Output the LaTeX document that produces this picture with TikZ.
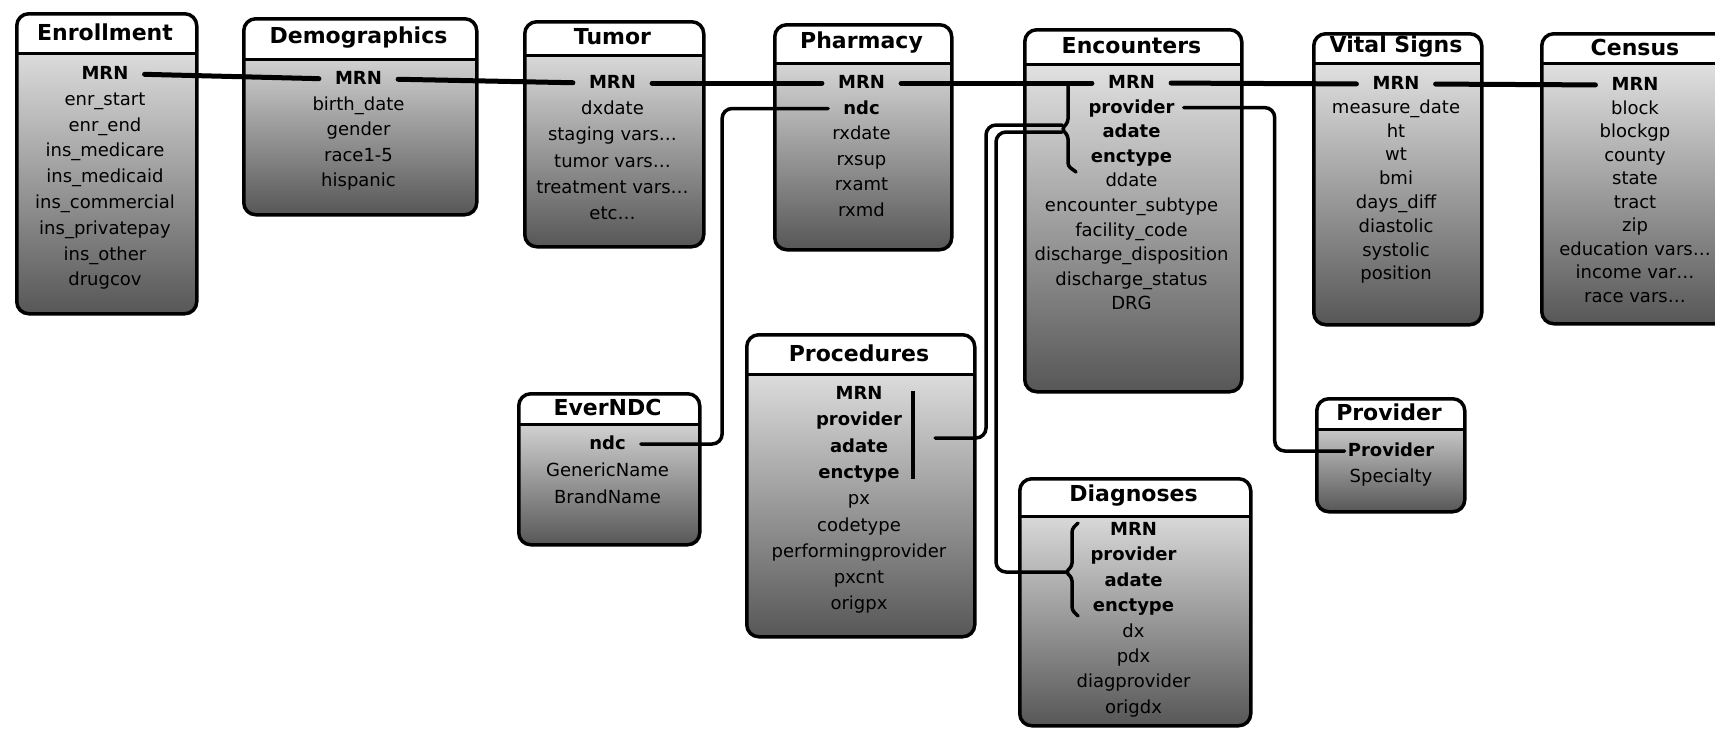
\documentclass[tikz,border=0pt]{standalone}
\usepackage{fontspec}
\setmainfont{DejaVu Sans}
\tikzset{
  dbtable/.style={draw, line width=3.5pt, rounded corners=12pt, inner sep=0pt,
    anchor=north west, top color=black!6, bottom color=black!66,
    path picture={
      \fill[white, sharp corners] (path picture bounding box.north west)
        rectangle ([yshift=-#1]path picture bounding box.north east);
      \draw[line width=3pt, sharp corners] ([yshift=-#1]path picture bounding box.north west)
        -- ([yshift=-#1]path picture bounding box.north east);
    }},
  tbltitle/.style={font=\bfseries\fontsize{22}{26}\selectfont, inner sep=0pt},
  tblfield/.style={font=\fontsize{18}{20}\selectfont, inner xsep=3pt, inner ysep=1pt,
    text height=14pt, text depth=3pt},
  mrnlink/.style={line width=5pt, line cap=round, shorten <=13pt, shorten >=13pt},
  link/.style={line width=3.5pt, line cap=round, rounded corners=10pt},
}
\begin{document}
\begin{tikzpicture}[x=1pt, y=-1pt]
	\useasboundingbox (0,0) rectangle (1715,728);
	\clip (0,0) rectangle (1715,728);
	% Draw the tables
	\node[dbtable=40pt, minimum width=180pt, minimum height=300pt] (enr) at (15,12) {};
	\node[dbtable=41pt, minimum width=233pt, minimum height=196pt] (dem) at (242,17) {};
	\node[dbtable=34pt, minimum width=179pt, minimum height=225pt] (tum) at (523,20) {};
	\node[dbtable=39pt, minimum width=177pt, minimum height=225pt] (pha) at (773,23) {};
	\node[dbtable=35pt, minimum width=217pt, minimum height=362pt] (enc) at (1023,28) {};
	\node[dbtable=30pt, minimum width=168pt, minimum height=291pt] (vit) at (1312,32) {};
	\node[dbtable=30pt, minimum width=190pt, minimum height=290pt] (cen) at (1540,32) {};
	\node[dbtable=31pt, minimum width=181pt, minimum height=151pt] (evn) at (517,392) {};
	\node[dbtable=40pt, minimum width=228pt, minimum height=302pt] (prc) at (745,333) {};
	\node[dbtable=38pt, minimum width=231pt, minimum height=247pt] (dia) at (1018,477) {};
	\node[dbtable=31pt, minimum width=148pt, minimum height=113pt] (prv) at (1315,397) {};
	% Add titles
	\node[tbltitle] (enr-t) at (105,32) {Enrollment};
	\node[tbltitle] (dem-t) at (358.5,37.5) {Demographics};
	\node[tbltitle] (tum-t) at (612.5,37) {Tumor};
	\node[tbltitle] (pha-t) at (861.5,42.5) {Pharmacy};
	\node[tbltitle] (enc-t) at (1131.5,45.5) {Encounters};
	\node[tbltitle] (vit-t) at (1396,47) {Vital Signs};
	\node[tbltitle] (cen-t) at (1635,47) {Census};
	\node[tbltitle] (evn-t) at (607.5,407.5) {EverNDC};
	\node[tbltitle] (prc-t) at (859,353) {Procedures};
	\node[tbltitle] (dia-t) at (1133.5,496) {Diagnoses};
	\node[tbltitle] (prv-t) at (1389,412.5) {Provider};
	% Add fields
	\foreach \f [count=\i from 0] in {\textbf{MRN}, enr\_start, enr\_end, ins\_medicare, ins\_medicaid, ins\_commercial, ins\_privatepay, ins\_other, drugcov}
		\node[tblfield] (enr-\i) at (105,{74+25.8*\i}) {\f};
	\foreach \f [count=\i from 0] in {\textbf{MRN}, birth\_date, gender, race1-5, hispanic}
		\node[tblfield] (dem-\i) at (358.5,{79+25.5*\i}) {\f};
	\foreach \f [count=\i from 0] in {\textbf{MRN}, dxdate, staging vars\ldots, tumor vars\ldots, treatment vars\ldots, etc\ldots}
		\node[tblfield] (tum-\i) at (612.5,{83+26.2*\i}) {\f};
	\foreach \f [count=\i from 0] in {\textbf{MRN}, \textbf{ndc}, rxdate, rxsup, rxamt, rxmd}
		\node[tblfield] (pha-\i) at (861.5,{83+25.5*\i}) {\f};
	\foreach \f [count=\i from 0] in {\textbf{MRN}, \textbf{provider}, \textbf{adate}, \textbf{enctype}, ddate, encounter\_subtype, facility\_code, discharge\_disposition, discharge\_status, DRG}
		\node[tblfield] (enc-\i) at (1131.5,{83+24.6*\i}) {\f};
	\foreach \f [count=\i from 0] in {\textbf{MRN}, measure\_date, ht, wt, bmi, days\_diff, diastolic, systolic, position}
		\node[tblfield] (vit-\i) at (1396,{84+23.8*\i}) {\f};
	\foreach \f [count=\i from 0] in {\textbf{MRN}, block, blockgp, county, state, tract, zip, education vars\ldots, income var\ldots, race vars\ldots}
		\node[tblfield] (cen-\i) at (1635,{85+23.5*\i}) {\f};
	\foreach \f [count=\i from 0] in {\textbf{ndc}, GenericName, BrandName}
		\node[tblfield] (evn-\i) at (607.5,{444+27*\i}) {\f};
	\foreach \f [count=\i from 0] in {\textbf{MRN}, \textbf{provider}, \textbf{adate}, \textbf{enctype}, px, codetype, performingprovider, pxcnt, origpx}
		\node[tblfield] (prc-\i) at (859,{394+26.3*\i}) {\f};
	\foreach \f [count=\i from 0] in {\textbf{MRN}, \textbf{provider}, \textbf{adate}, \textbf{enctype}, dx, pdx, diagprovider, origdx}
		\node[tblfield] (dia-\i) at (1133.5,{530+25.4*\i}) {\f};
	\foreach \f [count=\i from 0] in {\textbf{Provider}, Specialty}
		\node[tblfield] (prv-\i) at (1391,{451+26*\i}) {\f};
	% Brackets round the key fields
	\draw[link, rounded corners=3pt] (1068,83) -- (1068,122) -- (1062,129) -- (1068,136) -- (1068,166) -- (1076,172);
	\draw[line width=3.5pt] (913,391) -- (913,479);
	\draw[link, rounded corners=3pt] (1078,523) -- (1072,529) -- (1072,566) -- (1066,572) -- (1072,578) -- (1072,610) -- (1078,616);
	\coordinate (enc-a) at (1062,125);
	\coordinate (enc-b) at (1062,132);
	\coordinate (prc-br) at (935,438);
	\coordinate (dia-br) at (1066,572);
	% Draw the MRN links
	\draw[mrnlink] (enr-0.east) -- (dem-0.west);
	\draw[mrnlink] (dem-0.east) -- (tum-0.west);
	\draw[mrnlink] (tum-0.east) -- (pha-0.west);
	\draw[mrnlink] (pha-0.east) -- (enc-0.west);
	\draw[mrnlink] (enc-0.east) -- (vit-0.west);
	\draw[mrnlink] (vit-0.east) -- (cen-0.west);
	% Other links
	\draw[link, shorten <=12pt, shorten >=12pt] (pha-1.west) -- ++(-118,0) |- (evn-0.east);
	\draw[link, shorten <=6pt] (enc-1.east) -- ++(97,0) |- (prv-0.west);
	\draw[link] (prc-br) -- ++(51,0) |- (enc-a);
	\draw[link] (dia-br) -- ++(-70,0) |- (enc-b);
\end{tikzpicture}
\end{document}
